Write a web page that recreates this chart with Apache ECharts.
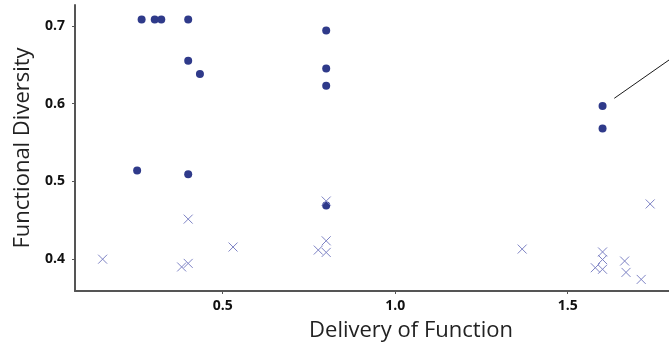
<!DOCTYPE html>
<html>
<head>
<meta charset="utf-8">
<script src="https://cdn.jsdelivr.net/npm/echarts@6/dist/echarts.min.js"></script>
<style>html,body{margin:0;padding:0;background:#fff}#c{width:669px;height:342px}</style>
</head>
<body>
<div id="c"></div>
<script>
// Filled circles
const dotX = [0.265, 0.303, 0.322, 0.400, 0.400, 0.434, 0.252, 0.400, 0.800, 0.800, 0.800, 0.800, 1.601, 1.601];
const dotY = [0.708, 0.708, 0.708, 0.708, 0.655, 0.638, 0.514, 0.509, 0.694, 0.645, 0.623, 0.469, 0.597, 0.568];
// Crosses
const crossX = [0.152, 0.400, 0.381, 0.400, 0.530, 0.777, 0.800, 0.800, 0.800, 1.368, 1.601, 1.601, 1.580, 1.601, 1.665, 1.669, 1.713, 1.739];
const crossY = [0.400, 0.4515, 0.390, 0.3946, 0.4156, 0.4117, 0.4236, 0.4087, 0.4747, 0.413, 0.4093, 0.3995, 0.389, 0.387, 0.3976, 0.383, 0.374, 0.471];
// Tick labels
const xTicks = [0.5, 1.0, 1.5];
const yTicks = [0.4, 0.5, 0.6, 0.7];
// Annotation line (data coordinates)
const noteLine = [[1.635, 0.6068], [1.7936, 0.656]];

const chart = echarts.init(document.getElementById('c'), null, {renderer: 'canvas'});
const axisCol = '#555';
chart.setOption({
  animation: false,
  grid: {left: 75, top: 5, right: 0, bottom: 51},
  xAxis: {
    type: 'value', min: 0.0719, max: 1.7936,
    splitLine: {show: false},
    axisLine: {show: true, lineStyle: {color: axisCol, width: 2}},
    axisTick: {show: true, length: 3, customValues: xTicks, lineStyle: {color: axisCol}},
    axisLabel: {customValues: xTicks, margin: 8, fontFamily: 'Open Sans', fontWeight: 'bold', fontSize: 14, color: '#111',
      formatter: v => v.toFixed(1)}
  },
  yAxis: {
    type: 'value', min: 0.3591, max: 0.7267,
    name: 'Functional Diversity', nameLocation: 'middle', nameGap: 41,
    nameTextStyle: {fontFamily: 'Open Sans', fontSize: 22, color: '#222'},
    splitLine: {show: false},
    axisLine: {show: true, lineStyle: {color: axisCol, width: 2}},
    axisTick: {show: true, length: 3, customValues: yTicks, lineStyle: {color: axisCol}},
    axisLabel: {customValues: yTicks, margin: 10, fontFamily: 'Open Sans', fontWeight: 'bold', fontSize: 14, color: '#111',
      formatter: v => v.toFixed(1)}
  },
  graphic: [{
    type: 'text', left: null, x: 411, y: 331,
    style: {text: 'Delivery of Function', fontFamily: 'Open Sans', fontSize: 22, fill: '#222', align: 'center', verticalAlign: 'middle'}
  }],
  series: [{
    type: 'scatter', symbol: 'circle', symbolSize: 8,
    itemStyle: {color: '#2F3A8A', opacity: 1},
    data: dotX.map((x, i) => [x, dotY[i]]),
    markLine: {
      silent: true, symbol: 'none', animation: false,
      lineStyle: {color: '#1a1a1a', width: 1, type: 'solid'},
      label: {show: false},
      data: [[{coord: noteLine[0]}, {coord: noteLine[1]}]]
    }
  }, {
    type: 'scatter', symbol: 'path://M0,0L10,10M10,0L0,10', symbolSize: 9,
    itemStyle: {color: 'rgba(0,0,0,0)', borderColor: '#7D82C4', borderWidth: 1, opacity: 1},
    data: crossX.map((x, i) => [x, crossY[i]])
  }]
});
</script>
</body>
</html>
